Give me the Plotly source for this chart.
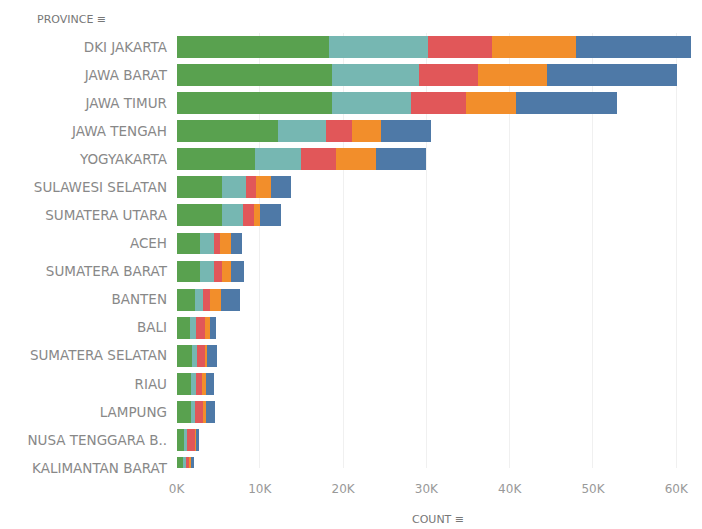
import plotly.graph_objects as go

provinces = ["DKI JAKARTA", "JAWA BARAT", "JAWA TIMUR", "JAWA TENGAH", "YOGYAKARTA",
             "SULAWESI SELATAN", "SUMATERA UTARA", "ACEH", "SUMATERA BARAT", "BANTEN",
             "BALI", "SUMATERA SELATAN", "RIAU", "LAMPUNG", "NUSA TENGGARA B..",
             "KALIMANTAN BARAT"]

# counts in thousands, per colour segment (left to right)
seg_green  = [18.3, 18.7, 18.7, 12.2, 9.4, 5.5, 5.5, 2.8, 2.8, 2.2, 1.6, 1.9, 1.7, 1.7, 0.9, 0.8]
seg_teal   = [11.9, 10.4, 9.5, 5.8, 5.6, 2.8, 2.5, 1.7, 1.7, 1.0, 0.8, 0.6, 0.6, 0.5, 0.4, 0.3]
seg_red    = [7.7, 7.1, 6.6, 3.1, 4.2, 1.3, 1.3, 0.7, 1.0, 0.8, 1.0, 1.0, 0.8, 1.0, 1.0, 0.5]
seg_orange = [10.1, 8.3, 6.0, 3.4, 4.8, 1.7, 0.7, 1.4, 1.0, 1.4, 0.6, 0.2, 0.4, 0.4, 0.1, 0.2]
seg_blue   = [13.8, 15.6, 12.1, 6.0, 6.0, 2.5, 2.5, 1.3, 1.6, 2.2, 0.8, 1.2, 1.0, 1.0, 0.3, 0.3]

series = [("Segment 1", seg_green, "#59A14F"),
          ("Segment 2", seg_teal, "#76B7B2"),
          ("Segment 3", seg_red, "#E15759"),
          ("Segment 4", seg_orange, "#F28E2B"),
          ("Segment 5", seg_blue, "#4E79A7")]

tick_vals = [0, 10, 20, 30, 40, 50, 60]
tick_text = ["0K", "10K", "20K", "30K", "40K", "50K", "60K"]

fig = go.Figure()
for name, vals, color in series:
    fig.add_trace(go.Bar(
        y=provinces, x=vals, name=name, orientation="h",
        marker=dict(color=color, line=dict(width=0)),
        width=0.78,
    ))

FONT = "DejaVu Sans"
fig.update_layout(
    barmode="stack",
    width=702, height=529,
    margin=dict(l=176, r=2, t=33, b=61, autoexpand=False),
    paper_bgcolor="white", plot_bgcolor="white",
    showlegend=False,
    font=dict(family=FONT, size=12, color="#888"),
    xaxis=dict(
        range=[-0.06, 62.85],
        tickvals=tick_vals, ticktext=tick_text,
        showgrid=True, gridcolor="#f0f0f0", gridwidth=1,
        zeroline=False, showline=False, automargin=False,
        ticks="", ticklabelstandoff=12,
        tickfont=dict(family=FONT, size=12, color="#999"),
    ),
    yaxis=dict(
        type="category",
        categoryorder="array", categoryarray=provinces,
        range=[15.0, -0.5], automargin=False,
        showgrid=False, zeroline=False, showline=False,
        ticks="", ticklabelstandoff=8,
        tickfont=dict(family=FONT, size=13.5, color="#888"),
    ),
    annotations=[
        dict(text="PROVINCE \u2261", xref="paper", yref="paper",
             x=-0.27, y=1.03, xanchor="left", yanchor="middle",
             showarrow=False, font=dict(family=FONT, size=11, color="#777")),
        dict(text="COUNT \u2261", xref="paper", yref="paper",
             x=0.5, y=-0.118, xanchor="center", yanchor="middle",
             showarrow=False, font=dict(family=FONT, size=11, color="#777")),
    ],
)

fig.write_html("out.html",
               config={"displayModeBar": False},
               post_script="document.body.style.margin='0';document.body.style.overflow='hidden';")
